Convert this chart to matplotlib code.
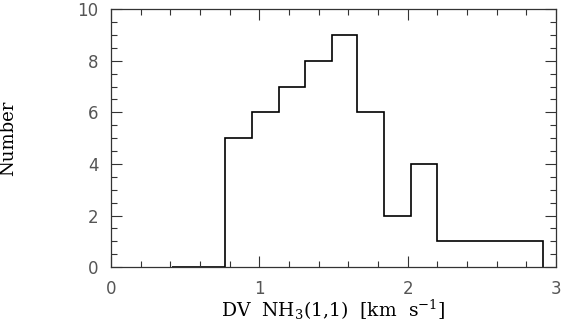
import matplotlib
matplotlib.use("Agg")
import matplotlib.pyplot as plt
from matplotlib.ticker import MultipleLocator

# bin edges and counts
bin_edges = [0.41, 0.59, 0.77, 0.95, 1.13, 1.31, 1.49, 1.66, 1.84, 2.02, 2.20, 2.38, 2.56, 2.73, 2.91]
counts = [0, 0, 5, 6, 7, 8, 9, 6, 2, 4, 1, 1, 1, 1]

x_ticks = [0, 1, 2, 3]
y_ticks = [0, 2, 4, 6, 8, 10]

plt.rcParams["mathtext.fontset"] = "dejavuserif"

fig = plt.figure(figsize=(5.61, 3.25), dpi=100)
ax = fig.add_axes([0.198, 0.178, 0.793, 0.794])

ax.stairs(counts, bin_edges, baseline=0, color="black", linewidth=1.2)

ax.set_xlim(0, 3)
ax.set_ylim(0, 10)
ax.set_xticks(x_ticks)
ax.set_yticks(y_ticks)
ax.xaxis.set_minor_locator(MultipleLocator(0.2))
ax.yaxis.set_minor_locator(MultipleLocator(0.5))

ax.tick_params(which="both", direction="in", top=True, right=True, width=0.8, colors="#333333")
ax.tick_params(which="major", length=8)
ax.tick_params(which="minor", length=4.5)
ax.tick_params(axis="x", which="major", pad=9, labelsize=12, labelcolor="#555555")
ax.tick_params(axis="y", which="major", pad=9, labelsize=12, labelcolor="#555555")

for sp in ax.spines.values():
    sp.set_linewidth(0.9)
    sp.set_color("#333333")

ax.set_xlabel(r"DV  NH$_3$(1,1)  [km  s$^{-1}$]", family="DejaVu Serif", fontsize=13.5, labelpad=0)
ax.set_ylabel("Number", family="DejaVu Serif", fontsize=13, labelpad=0)
ax.yaxis.set_label_coords(-0.212, 0.5)

fig.savefig("out.png", dpi=100)
